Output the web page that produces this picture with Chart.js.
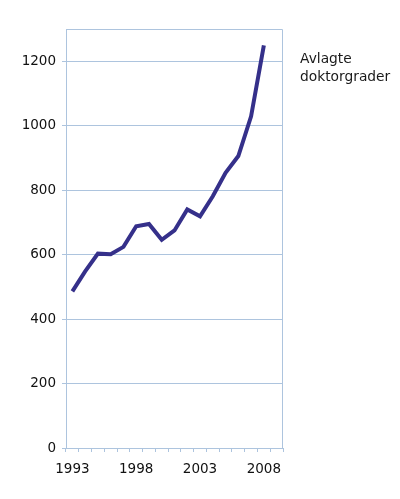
<!DOCTYPE html>
<html>
<head>
<meta charset="utf-8">
<script src="https://cdn.jsdelivr.net/npm/chart.js@4"></script>
<style>
  html, body { margin: 0; padding: 0; background: #fff; }
  #wrap { width: 400px; height: 499px; position: relative; }
</style>
</head>
<body>
<div id="wrap"><canvas id="phdChart"></canvas></div>
<script>
// years on the x axis (2009 has no value, it just leaves room at the right)
var years = ["1993", "1994", "1995", "1996", "1997", "1998", "1999", "2000", "2001",
  "2002", "2003", "2004", "2005", "2006", "2007", "2008", "2009"];
var doctorates = [486, 548, 603, 601, 624, 688, 695, 646, 675, 740, 719, 781, 854, 906, 1029, 1249, null];
var yTicks = [0, 200, 400, 600, 800, 1000, 1200];
var legendLines = ["Avlagte", "doktorgrader"];

var gridBlue = "#adc4de";
var font = { family: "'DejaVu Sans', Verdana, sans-serif", size: 13.5 };

// box around the plot + the series name on the right
var framePlugin = {
  id: "frame",
  afterDraw: function (chart) {
    var ctx = chart.ctx;
    var a = chart.chartArea;
    ctx.save();
    ctx.strokeStyle = gridBlue;
    ctx.lineWidth = 1;
    ctx.beginPath();
    ctx.moveTo(a.left, a.top + 0.5);
    ctx.lineTo(a.right - 0.5, a.top + 0.5);
    ctx.lineTo(a.right - 0.5, a.bottom);
    ctx.stroke();
    ctx.fillStyle = "#1a1a1a";
    ctx.font = "13.8px " + font.family;
    ctx.textBaseline = "alphabetic";
    legendLines.forEach(function (line, i) {
      ctx.fillText(line, 300, 63 + i * 17.5);
    });
    ctx.restore();
  }
};

var ctx = document.getElementById("phdChart").getContext("2d");
var phdChart = new Chart(ctx, {
  type: "line",
  data: {
    labels: years,
    datasets: [
      {
        label: legendLines.join(" "),
        data: doctorates,
        borderColor: "#35308a",
        borderWidth: 4,
        pointRadius: 0,
        tension: 0,
        fill: false
      }
    ]
  },
  options: {
    responsive: true,
    maintainAspectRatio: false,
    animation: false,
    layout: { padding: { top: 29, right: 117, bottom: 21, left: 0 } },
    plugins: {
      legend: { display: false },
      tooltip: { enabled: false }
    },
    scales: {
      x: {
        offset: true,
        grid: {
          offset: true,
          drawOnChartArea: false,
          color: gridBlue,
          tickLength: 4
        },
        border: { color: gridBlue },
        ticks: {
          autoSkip: false,
          maxRotation: 0,
          color: "#111",
          font: font,
          padding: 9,
          callback: function (value, index) {
            return index % 5 === 0 ? this.getLabelForValue(value) : "";
          }
        },
        afterFit: function (scale) { scale.height = 30; }
      },
      y: {
        min: 0,
        max: 1300,
        afterBuildTicks: function (scale) {
          scale.ticks = yTicks.map(function (v) { return { value: v }; });
        },
        grid: { color: gridBlue, tickLength: 4 },
        border: { color: gridBlue },
        ticks: {
          color: "#111",
          font: font,
          padding: 6,
          callback: function (value) { return String(value); }
        },
        afterFit: function (scale) { scale.width = 66; }
      }
    }
  },
  plugins: [framePlugin]
});
</script>
</body>
</html>
